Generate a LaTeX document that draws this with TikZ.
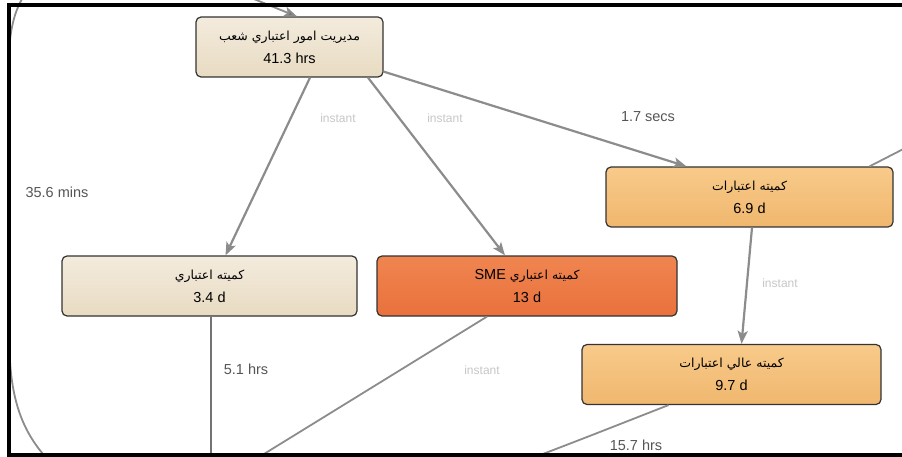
\documentclass[tikz,border=0pt]{standalone}
\usepackage{fontspec}
\setmainfont{Liberation Sans}
\newfontfamily\arabicfont[Script=Arabic]{DejaVu Sans}
\TeXXeTstate=1
\usetikzlibrary{arrows.meta}
\definecolor{sandtop}{HTML}{F3EBDD}
\definecolor{sandbot}{HTML}{E8DBC2}
\definecolor{ambertop}{HTML}{F8CA8A}
\definecolor{amberbot}{HTML}{F0B76E}
\definecolor{rusttop}{HTML}{F08550}
\definecolor{rustbot}{HTML}{E9713C}
\definecolor{wire}{HTML}{8C8C8C}
\definecolor{tipgray}{HTML}{6E6E6E}
\definecolor{note}{HTML}{555555}
\definecolor{ghost}{HTML}{C6C6C6}
\newcommand{\fa}[1]{{\arabicfont\fontsize{12.5}{23}\selectfont\beginR #1\endR}}

\begin{document}
\begin{tikzpicture}[x=1pt,y=-1pt,
        font=\fontsize{14.5}{23}\selectfont,
        stage/.style={draw=black!80,line width=1.2pt,rounded corners=5pt,
          top color=sandtop,bottom color=sandbot,inner sep=0pt,
          minimum height=60pt,align=center},
        warm/.style={stage,top color=ambertop,bottom color=amberbot},
        hot/.style={stage,top color=rusttop,bottom color=rustbot},
        flow/.style={-{Stealth[length=13pt,width=10pt,inset=3pt,fill=tipgray]},
          line width=2.2pt,draw=wire},
        exit/.style={line width=1.8pt,draw=wire},
        tag/.style={text=note,inner sep=1pt},
        faint/.style={text=ghost,inner sep=1pt,font=\fontsize{12}{14}\selectfont}
      ]
        \useasboundingbox (0,0) rectangle (902,457);
        \begin{scope}
        \clip (0,0) rectangle (902,457);
        \node[stage,minimum width=187pt] (branch) at (289.5,47)
          {\fa{مديريت امور اعتباري شعب}\\41.3 hrs};
        \node[warm,minimum width=287pt] (board) at (749.5,197)
          {\fa{كميته اعتبارات}\\6.9 d};
        \node[stage,minimum width=295pt] (credit) at (209.5,286)
          {\fa{كميته اعتباري}\\3.4 d};
        \node[hot,minimum width=300pt] (sme) at (527,286)
          {{\arabicfont\fontsize{12.5}{23}\selectfont\beginR كميته اعتباري
          \beginL{\normalfont\fontsize{14.5}{23}\selectfont SME}\endL\endR}\\13 d};
        \node[warm,minimum width=299pt] (high) at (731.5,374.5)
          {\fa{كميته عالي اعتبارات}\\9.7 d};
        % loose ends leaving the view
        \coordinate (loopin) at (70,480);
        \coordinate (eastin) at (915,143);
        \coordinate (creditout) at (211,470);
        \coordinate (smeout) at (238,470);
        \coordinate (highout) at (500,470);
        \draw[flow,line width=1.8pt] (loopin) .. controls (20,440) and (9,400) .. (9,330)
          -- (9,60) .. controls (9,20) and (20,-20) .. (60,-30)
          .. controls (150,-50) and (230,-10) .. ([xshift=7.5pt]branch.north);
        \draw[flow] ([xshift=20.5pt]branch.south) -- ([xshift=16pt]credit.north);
        \draw[flow] ([xshift=78.5pt]branch.south) -- ([xshift=-22pt]sme.north);
        \draw[flow] ([yshift=6pt]branch.south east) -- ([xshift=-63pt]board.north);
        \draw[flow] ([xshift=2.5pt]board.south) -- ([xshift=10pt]high.north);
        \draw[exit] (eastin) -- ([xshift=120pt]board.north);
        \draw[exit,line width=1.3pt,draw=black!55] ([xshift=1.5pt]credit.south) -- (creditout);
        \draw[exit] ([xshift=-40pt]sme.south) -- (smeout);
        \draw[exit] ([xshift=-63pt]high.south) .. controls (620,424) and (560,448) .. (highout);
        % durations
        \node[tag] (tloop) at (57,192) {35.6 mins};
        \node[faint] (tleft) at (338,118) {instant};
        \node[faint] (tmid) at (445,118) {instant};
        \node[tag] (tboard) at (648,117) {1.7 secs};
        \node[faint] (thigh) at (780,283) {instant};
        \node[tag] (tcredit) at (246,369) {5.1 hrs};
        \node[faint] (tsme) at (482,370) {instant};
        \node[tag] (tout) at (636,445) {15.7 hrs};
        \end{scope}
        % frame of the view
        \draw[line width=3.5pt] (903,5) -- (9,5) -- (9,455) -- (903,455);
      \end{tikzpicture}
\end{document}
